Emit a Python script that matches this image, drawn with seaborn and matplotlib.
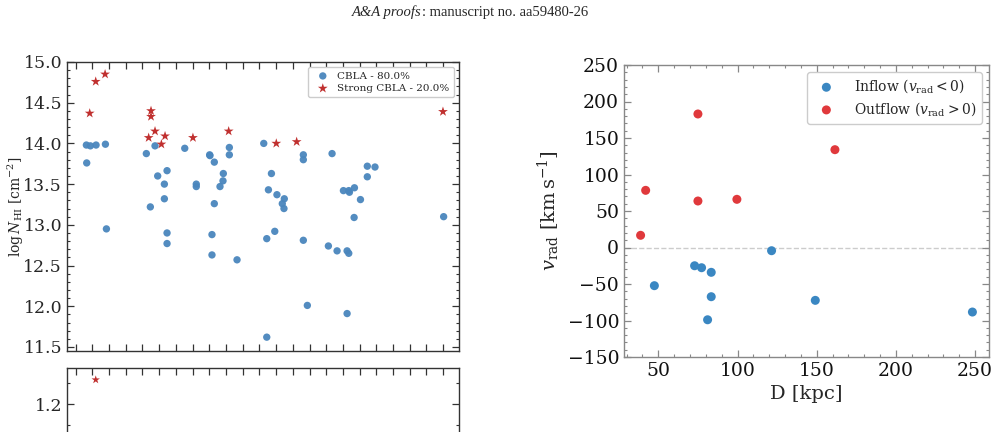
import numpy as np
import pandas as pd
import matplotlib
matplotlib.use("Agg")
import matplotlib.pyplot as plt
from matplotlib.ticker import MultipleLocator, NullFormatter, FixedLocator
import seaborn as sns

# ── data ─────────────────────────────────────────────────────────────────────
# left panel: column density vs distance
cbla_d = [36.4, 38.8, 42.2, 47.8, 36.6, 48.4, 72.3, 74.7, 77.5, 79.1, 83.1, 83.1,
          84.7, 84.7, 84.7, 95.3, 102.2, 102.2, 110.2, 110.4, 113.0, 113.0, 118.4,
          118.2, 116.4, 122.0, 122.0, 111.6, 111.6, 126.6, 142.6, 147.2, 145.4,
          150.5, 154.9, 153.7, 154.7, 144.4, 149.2, 144.4, 166.3, 166.3, 166.3,
          168.7, 183.5, 181.3, 186.5, 192.5, 193.5, 192.5, 190.3, 193.5, 193.9,
          196.9, 196.7, 200.5, 204.6, 204.6, 209.2, 250.3]
cbla_logn = [13.98, 13.97, 13.98, 13.99, 13.76, 12.95, 13.875, 13.22, 13.97, 13.60,
             13.50, 13.32, 13.665, 12.90, 12.77, 13.94, 13.50, 13.47, 13.86, 13.85,
             13.77, 13.26, 13.63, 13.54, 13.47, 13.95, 13.86, 12.88, 12.63, 12.57,
             14.00, 13.63, 13.43, 13.37, 13.32, 13.26, 13.20, 12.83, 12.92, 11.62,
             13.86, 13.80, 12.81, 12.01, 13.875, 12.74, 12.68, 12.68, 12.65, 11.91,
             13.42, 13.42, 13.40, 13.455, 13.09, 13.31, 13.72, 13.59, 13.71, 13.10]
strong_d = [38.4, 42.0, 47.6, 75.1, 75.1, 73.7, 77.5, 81.3, 83.5, 100.2, 121.6,
            150.1, 162.3, 249.9]
strong_logn = [14.37, 14.76, 14.85, 14.40, 14.33, 14.07, 14.15, 13.99, 14.09, 14.07,
               14.15, 14.00, 14.02, 14.39]

# lower-left panel (cut off at page edge)
lower_d = [42.0]
lower_val = [1.229]

# right panel: radial velocity vs distance
inflow_d = [47.5, 72.9, 77.3, 83.4, 83.4, 81.1, 121.5, 149.1, 248.3]
inflow_v = [-52.3, -25.0, -27.7, -34.0, -67.4, -99.0, -4.4, -72.4, -88.4]
outflow_d = [38.8, 42.0, 75.0, 75.0, 99.6, 161.5]
outflow_v = [16.7, 78.3, 182.9, 63.7, 66.0, 134.0]

BLUE_L, RED_L = "#4a86bd", "#c0302f"
BLUE_R, RED_R = "#3a87c2", "#e0393c"

sns.set_style("ticks")
plt.rcParams["font.family"] = ["DejaVu Serif"]
plt.rcParams["mathtext.fontset"] = "dejavuserif"
plt.rcParams["xtick.direction"] = "in"
plt.rcParams["ytick.direction"] = "in"

fig = plt.figure(figsize=(9.97, 4.32), dpi=100)

# ── header line of the page ─────────────────────────────────────────────────
hdr = fig.text(352 / 997, 0.972, "A&A proofs", family="Liberation Serif", style="italic",
               fontsize=10.5, ha="left", va="center")
fig.canvas.draw()
bb = hdr.get_window_extent(fig.canvas.get_renderer())
fig.text(bb.x1 / fig.bbox.width, 0.972, ": manuscript no. aa59480-26",
         family="Liberation Serif", fontsize=10.5, ha="left", va="center")


def style_ticks(ax, spine_col="#333333"):
    ax.tick_params(which="both", top=True, right=True, color=spine_col)
    ax.tick_params(which="major", length=5, width=0.9)
    ax.tick_params(which="minor", length=2.5, width=0.8)
    for s in ax.spines.values():
        s.set_color(spine_col)
        s.set_linewidth(1.0)


# ── left main panel ──────────────────────────────────────────────────────────
ax1 = fig.add_axes([67 / 997, 81 / 432, 392 / 997, 289 / 432])
sns.scatterplot(x=cbla_d, y=cbla_logn, ax=ax1, color=BLUE_L, s=28, alpha=0.95,
                edgecolor="none", label="CBLA - 80.0%")
sns.scatterplot(x=strong_d, y=strong_logn, ax=ax1, color=RED_L, s=55, marker="*",
                edgecolor="none", label="Strong CBLA - 20.0%")
ax1.set_xlim(24.8, 259.5)
ax1.set_ylim(11.45, 15.0)
ax1.xaxis.set_major_locator(MultipleLocator(10))
ax1.xaxis.set_major_formatter(NullFormatter())
ax1.yaxis.set_major_locator(MultipleLocator(0.5))
ax1.yaxis.set_minor_locator(MultipleLocator(0.1))
ax1.set_ylabel(r"$\log N_{\rm HI}$ [cm$^{-2}$]", fontsize=10)
ax1.yaxis.set_label_coords(-0.105, 0.5)
ax1.tick_params(axis="y", labelsize=12.5)
style_ticks(ax1)
ax1.legend(loc="upper right", fontsize=7.5, frameon=True, handletextpad=0.4,
           borderpad=0.4, labelspacing=0.3, framealpha=1, edgecolor="#cccccc")

# ── lower-left panel (truncated by page) ────────────────────────────────────
ax2 = fig.add_axes([67 / 997, -140 / 432, 392 / 997, 204 / 432])
sns.scatterplot(x=lower_d, y=lower_val, ax=ax2, color=RED_L, s=40, marker="*",
                edgecolor="none", legend=False)
ax2.set_xlim(24.8, 259.5)
ax2.set_ylim(1.0, 1.243)
ax2.xaxis.set_major_locator(MultipleLocator(10))
ax2.xaxis.set_major_formatter(NullFormatter())
ax2.yaxis.set_major_locator(FixedLocator([1.2]))
ax2.yaxis.set_minor_locator(MultipleLocator(0.025))
ax2.tick_params(axis="y", labelsize=12.5)
style_ticks(ax2)

# ── right panel ──────────────────────────────────────────────────────────────
ax3 = fig.add_axes([624 / 997, 75 / 432, 365 / 997, 292 / 432])
ax3.axhline(0, color="#cccccc", ls="--", lw=1.0, zorder=0)
sns.scatterplot(x=inflow_d, y=inflow_v, ax=ax3, color=BLUE_R, s=42, edgecolor="none",
                label=r"Inflow ($v_{\rm rad} < 0$)")
sns.scatterplot(x=outflow_d, y=outflow_v, ax=ax3, color=RED_R, s=42, edgecolor="none",
                label=r"Outflow ($v_{\rm rad} > 0$)")
ax3.set_ylim(-150, 250)
ax3.xaxis.set_major_locator(MultipleLocator(50))
ax3.xaxis.set_minor_locator(MultipleLocator(10))
ax3.yaxis.set_major_locator(MultipleLocator(50))
ax3.yaxis.set_minor_locator(MultipleLocator(10))
ax3.set_xlabel("D [kpc]", fontsize=14)
ax3.set_ylabel(r"$v_{\rm rad}\ [\mathrm{km\,s^{-1}}]$", fontsize=14)
ax3.tick_params(labelsize=13.5)
style_ticks(ax3, spine_col="#888888")
ax3.tick_params(labelcolor="#111111")
ax3.legend(loc="upper right", fontsize=10, frameon=True, handletextpad=1.0,
           borderpad=0.4, labelspacing=0.35, framealpha=1, edgecolor="#cccccc")

fig.savefig("out.png", dpi=100)
